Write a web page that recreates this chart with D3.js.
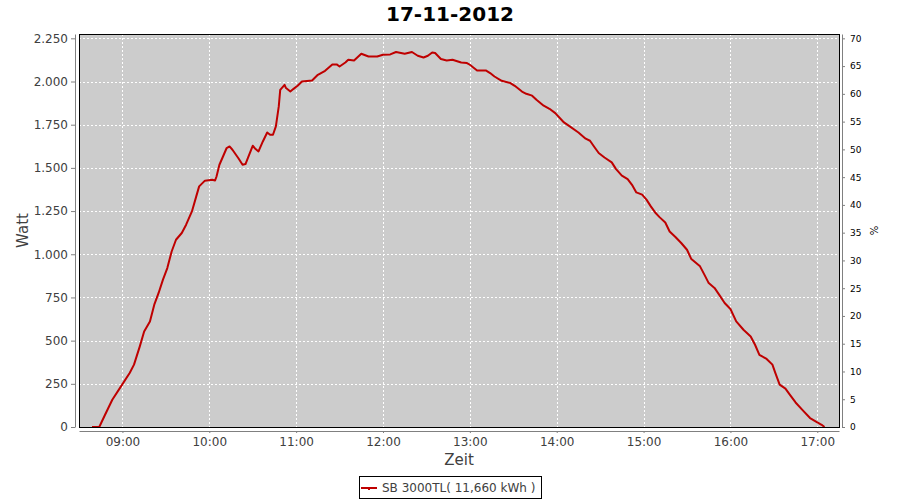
<!DOCTYPE html>
<meta charset="utf-8">
<title>17-11-2012</title>
<script src="https://d3js.org/d3.v7.min.js"></script>
<style>
  body { margin: 0; background: #fff; }
  svg text { font-family: "DejaVu Sans", sans-serif; }
  .axis path, .axis line { stroke: #808080; }
  .axis text { fill: #404040; font-size: 12px; }
  .raxis text { fill: #000; font-size: 9px; }
  .grid line { stroke: #fff; stroke-dasharray: 2,2; shape-rendering: crispEdges; }
</style>
<body>
<div id="chart"></div>
<script>

// readings of the day (time, Watt)
var times = ["08:39","08:44","08:48","08:53","08:59","09:05","09:08","09:12","09:15","09:19",
  "09:22","09:25","09:28","09:31","09:34","09:37","09:41","09:44","09:48","09:51",
  "09:53","09:57","10:02","10:04","10:05","10:07","10:10","10:12","10:14","10:16",
  "10:20","10:23","10:25","10:28","10:30","10:32","10:34","10:37","10:40","10:42",
  "10:44","10:46","10:48","10:49","10:52","10:53","10:56","10:58","11:01","11:04",
  "11:11","11:15","11:20","11:25","11:28","11:30","11:34","11:36","11:40","11:45",
  "11:50","11:56","12:00","12:05","12:09","12:15","12:20","12:24","12:28","12:31",
  "12:34","12:36","12:40","12:44","12:48","12:54","12:58","13:00","13:05","13:11",
  "13:14","13:17","13:22","13:28","13:31","13:36","13:39","13:43","13:46","13:51",
  "13:55","13:59","14:05","14:09","14:15","14:20","14:23","14:26","14:29","14:33",
  "14:38","14:41","14:45","14:49","14:52","14:55","14:59","15:02","15:05","15:08",
  "15:11","15:15","15:18","15:22","15:26","15:30","15:33","15:39","15:42","15:45",
  "15:49","15:53","15:56","16:00","16:04","16:09","16:14","16:17","16:20","16:25",
  "16:29","16:31","16:34","16:38","16:41","16:45","16:50","16:55","17:00","17:03",
  "17:05"];
var watts = [0,0,71,158,235,313,361,467,553,611,
  708,776,853,920,1016,1084,1123,1171,1248,1335,
  1393,1426,1431,1427,1450,1518,1576,1615,1624,1605,
  1557,1518,1522,1586,1628,1609,1595,1653,1705,1692,
  1692,1740,1856,1952,1981,1962,1942,1956,1975,2000,
  2006,2039,2062,2099,2099,2087,2110,2126,2122,2161,
  2145,2145,2155,2157,2171,2161,2171,2149,2139,2149,
  2168,2165,2130,2122,2126,2110,2107,2097,2064,2064,
  2049,2029,2004,1991,1975,1942,1929,1918,1894,1860,
  1842,1817,1763,1740,1705,1669,1657,1621,1586,1560,
  1532,1493,1455,1435,1402,1358,1345,1316,1277,1242,
  1215,1184,1132,1100,1065,1026,972,930,882,833,
  805,756,718,683,611,563,524,476,418,394,
  361,313,245,222,187,142,96,52,27,13,
  0];

var timeRange = ["08:30","17:15"];
var hourTicks = ["09:00","10:00","11:00","12:00","13:00","14:00","15:00","16:00","17:00"];
var wattTicks = [0,250,500,750,1000,1250,1500,1750,2000,2250];
var wattMax = 2275;
var pctTicks = [0,5,10,15,20,25,30,35,40,45,50,55,60,65,70];
var pctMax = 70.78;

var title = "17-11-2012";
var seriesName = "SB 3000TL( 11,660 kWh )";

var parse = d3.timeParse("%H:%M");
var fmt = d3.formatLocale({decimal: ",", thousands: ".", grouping: [3], currency: ["", "€"]}).format(",d");

var W = 900, H = 500;
var plot = {left: 79, top: 34, right: 839, bottom: 427};
var lineColor = "#bf0000";

var svg = d3.select("#chart").append("svg")
    .attr("width", W).attr("height", H);

var x = d3.scaleTime()
    .domain(timeRange.map(parse))
    .range([plot.left, plot.right]);
var y = d3.scaleLinear().domain([0, wattMax]).range([plot.bottom, plot.top]);
var yR = d3.scaleLinear().domain([0, pctMax]).range([plot.bottom, plot.top]);

// plot background
svg.append("rect")
    .attr("x", plot.left).attr("y", plot.top)
    .attr("width", plot.right - plot.left).attr("height", plot.bottom - plot.top)
    .attr("fill", "#cccccc");

// grid
var grid = svg.append("g").attr("class", "grid");
grid.selectAll(".v").data(hourTicks).enter().append("line")
    .attr("x1", function(d) { return Math.round(x(parse(d))) + 0.5; })
    .attr("x2", function(d) { return Math.round(x(parse(d))) + 0.5; })
    .attr("y1", plot.top).attr("y2", plot.bottom);
grid.selectAll(".h").data(wattTicks).enter().append("line")
    .attr("y1", function(d) { return Math.round(y(d)) + 0.5; })
    .attr("y2", function(d) { return Math.round(y(d)) + 0.5; })
    .attr("x1", plot.left).attr("x2", plot.right);

// the series
var line = d3.line()
    .x(function(d, i) { return x(parse(times[i])); })
    .y(function(d) { return y(d); });
svg.append("path")
    .datum(watts)
    .attr("d", line)
    .attr("fill", "none")
    .attr("stroke", lineColor)
    .attr("stroke-width", 2)
    .attr("stroke-linejoin", "round");

// plot border
svg.append("rect")
    .attr("x", plot.left + 0.5).attr("y", plot.top + 0.5)
    .attr("width", plot.right - plot.left).attr("height", plot.bottom - plot.top)
    .attr("fill", "none").attr("stroke", "#000");

// axes
svg.append("g").attr("class", "axis")
    .attr("transform", "translate(" + (plot.left - 4) + ",0)")
    .call(d3.axisLeft(y).tickValues(wattTicks).tickFormat(fmt).tickSize(4).tickPadding(3).tickSizeOuter(0));

svg.append("g").attr("class", "axis raxis")
    .attr("transform", "translate(" + (plot.right + 3) + ",0)")
    .call(d3.axisRight(yR).tickValues(pctTicks).tickSize(3).tickPadding(5).tickSizeOuter(0));

svg.append("g").attr("class", "axis")
    .attr("transform", "translate(0," + (plot.bottom + 4) + ")")
    .call(d3.axisBottom(x).tickValues(hourTicks.map(parse)).tickFormat(d3.timeFormat("%H:%M"))
      .tickSize(2).tickPadding(4).tickSizeOuter(0));

// titles
svg.append("text")
    .attr("x", W / 2).attr("y", 21)
    .attr("text-anchor", "middle")
    .attr("font-size", "20px").attr("font-weight", "bold")
    .attr("fill", "#000")
    .text(title);

svg.append("text")
    .attr("transform", "translate(28," + ((plot.top + plot.bottom) / 2) + ") rotate(-90)")
    .attr("text-anchor", "middle")
    .attr("font-size", "15px").attr("fill", "#404040")
    .text("Watt");

svg.append("text")
    .attr("x", (plot.left + plot.right) / 2).attr("y", 465)
    .attr("text-anchor", "middle")
    .attr("font-size", "15px").attr("fill", "#404040")
    .text("Zeit");

svg.append("text")
    .attr("transform", "translate(870," + ((plot.top + plot.bottom) / 2) + ") rotate(90)")
    .attr("text-anchor", "middle")
    .attr("font-size", "10px").attr("fill", "#000")
    .text("%");

// legend
var lg = svg.append("g");
lg.append("rect")
    .attr("x", 359.5).attr("y", 476.5).attr("width", 182).attr("height", 22)
    .attr("fill", "#fff").attr("stroke", "#000");
lg.append("line")
    .attr("x1", 361).attr("x2", 377).attr("y1", 488).attr("y2", 488)
    .attr("stroke", lineColor).attr("stroke-width", 2);
lg.append("rect")
    .attr("x", 368).attr("y", 488).attr("width", 2).attr("height", 2)
    .attr("fill", lineColor);
lg.append("text")
    .attr("x", 382).attr("y", 492)
    .attr("font-size", "12px").attr("fill", "#404040")
    .text(seriesName);

</script>
</body>
